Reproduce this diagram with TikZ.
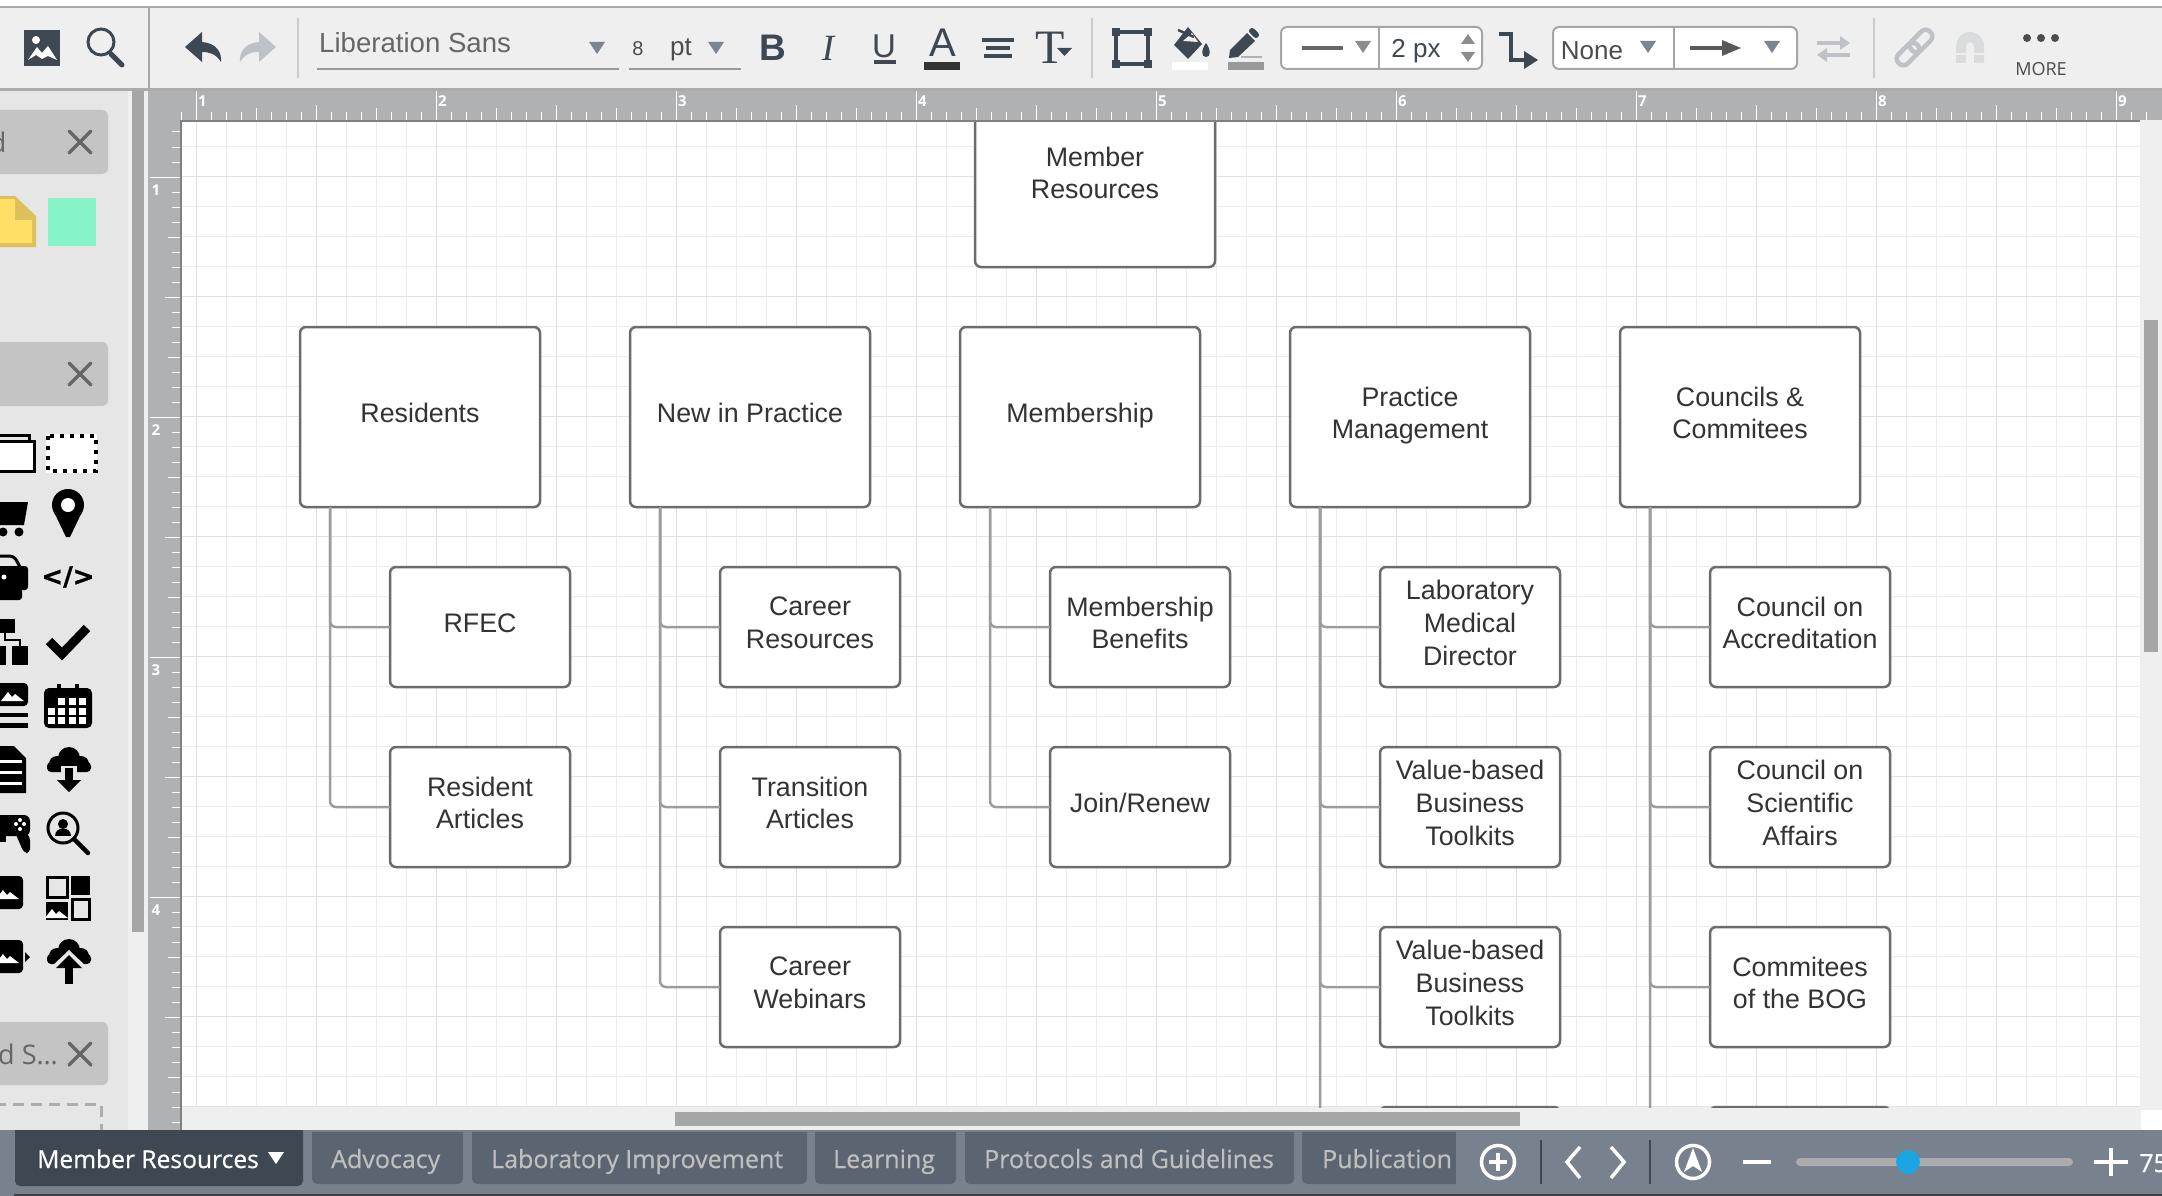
\documentclass[tikz,border=0pt]{standalone}
\usepackage{fontspec}
\setmainfont{Liberation Sans}
\newfontfamily\tabfont[FakeBold=0.5]{Open Sans}
\newfontfamily\plainfont{Open Sans}
\newfontfamily\symfont[FakeBold=1.2]{DejaVu Sans}
\newfontfamily\serfont{Liberation Serif}

\definecolor{barbg}{HTML}{EFEFEF}
\definecolor{panelbg}{HTML}{E6E6E6}
\definecolor{rulerbg}{HTML}{B0B1B3}
\definecolor{slatedark}{HTML}{3E4853}
\definecolor{slatemid}{HTML}{5B6571}
\definecolor{slatebar}{HTML}{78828E}
\definecolor{paleico}{HTML}{BEC2C6}
\definecolor{paleredo}{HTML}{DADBDD}
\definecolor{tritone}{HTML}{7C8591}
\definecolor{boxline}{HTML}{6B6B6B}
\definecolor{linkline}{HTML}{9C9C9C}
\definecolor{gridminor}{HTML}{ECECEC}
\definecolor{gridmajor}{HTML}{E2E2E2}
\definecolor{scrollgray}{HTML}{A6A6A6}
\definecolor{noteedge}{HTML}{DDBF5C}
\definecolor{notefill}{HTML}{FFDF66}
\definecolor{mintfill}{HTML}{86F3C9}
\definecolor{thumbblue}{HTML}{1BA5E3}

\tikzset{
  bigbox/.style={draw=boxline, line width=2.5pt, fill=white, rounded corners=6pt, minimum width=240pt, minimum height=180pt,
    inner sep=0pt, outer sep=0pt, align=center, text=black!80, text depth=8.5pt, font=\fontsize{26.8}{32.6}\selectfont},
  subbox/.style={bigbox, minimum width=180pt, minimum height=120pt},
  link/.style={draw=linkline, line width=2.5pt, rounded corners=6pt},
  tabtext/.style={font=\tabfont\fontsize{25}{30}\selectfont, text=black!25, anchor=base west, inner sep=0pt},
  rulenum/.style={font=\plainfont\bfseries\fontsize{15}{18}\selectfont, text=white, inner sep=0pt},
  toolglyph/.style={text=slatedark, inner sep=0pt},
  fieldbox/.style={draw=black!35, line width=2pt, fill=white, rounded corners=6pt},
  sepline/.style={draw=black!20, line width=1.5pt},
  icoline/.style={draw=slatedark, line width=4pt}
}

\newcommand{\downtri}[3]{\fill[#3] (#1,#2) ++(-8,-6) -- ++(16,0) -- ++(-8,12) -- cycle;}
\newcommand{\mountain}[3]{\fill[#3] (#1,#2) ++(-12,7) -- ++(7,-9) -- ++(4,5) -- ++(3,-3) -- ++(9,7) -- cycle;}
\newcommand{\cloudico}[2]{\fill (#1,#2) circle (11); \fill (#1-12,#2+6) circle (8); \fill (#1+12,#2+6) circle (8); \fill[rounded corners=4pt] (#1-22,#2+4) rectangle (#1+22,#2+14);}

\begin{document}
\begin{tikzpicture}[x=1pt,y=-1pt]
\useasboundingbox (0,0) rectangle (2162,1196);
\clip (0,0) rectangle (2162,1196);

\fill[white] (0,0) rectangle (2162,1196);
\fill[barbg] (0,8) rectangle (2162,88);
\fill[black!33] (0,6) rectangle (2162,8);
\fill[black!33] (0,88) rectangle (2162,91);
\draw[black!35, line width=1.5pt] (149,8) -- (149,88);
\fill[panelbg] (0,91) rectangle (128,1130);
\fill[barbg] (128,91) rectangle (148,1130);
\fill[scrollgray] (132,91) rectangle (144,932);
\fill[rulerbg] (148,91) rectangle (2162,120);
\fill[rulerbg] (148,120) rectangle (181,1130);
\fill[barbg] (181,1107) rectangle (2162,1130);
\fill[barbg] (2140,120) rectangle (2162,1107);
\fill[white] (2141,1110) rectangle (2162,1130);
\fill[scrollgray] (675,1112) rectangle (1520,1126);
\fill[scrollgray] (2144,320) rectangle (2158,652);

\foreach \gx in {196,226,...,2116} \draw[gridminor, line width=1pt] (\gx,122) -- (\gx,1107);
\foreach \gy in {146.7,176.7,...,1090} \draw[gridminor, line width=1pt] (182,\gy) -- (2140,\gy);
\foreach \gx in {196,316,...,2116} \draw[gridmajor, line width=1pt] (\gx,122) -- (\gx,1107);
\foreach \gy in {176.7,296.7,...,1090} \draw[gridmajor, line width=1pt] (182,\gy) -- (2140,\gy);
\draw[gridmajor, line width=1pt] (182,1106.5) -- (2140,1106.5);

\foreach \tx in {181,196,...,2160} \draw[white, line width=1pt] (\tx,112) -- (\tx,120);
\foreach \tx in {196,256,...,2160} \draw[white, line width=1pt] (\tx,108) -- (\tx,120);
\foreach \tx in {196,316,...,2160} \draw[white, line width=1pt] (\tx,105) -- (\tx,120);
\foreach \tx/\tl in {196/1,436/2,676/3,916/4,1156/5,1396/6,1636/7,1876/8,2116/9} {
  \draw[white, line width=1pt] (\tx,91) -- (\tx,120);
  \node[rulenum, anchor=west] (hnum\tl) at (\tx+2,101) {\tl};
}
\foreach \ty in {132,147,...,1130} \draw[white, line width=1pt] (172,\ty) -- (180,\ty);
\foreach \ty in {177,237,...,1130} \draw[white, line width=1pt] (168,\ty) -- (180,\ty);
\foreach \ty in {177,297,...,1130} \draw[white, line width=1pt] (165,\ty) -- (180,\ty);
\foreach \ty/\tl in {177/1,417/2,657/3,897/4} {
  \draw[white, line width=1pt] (150,\ty) -- (180,\ty);
  \node[rulenum] (vnum\tl) at (156,\ty+13) {\tl};
}

\begin{scope}
\clip (182,122) rectangle (2140,1107.6);

\node[bigbox] (memberres) at (1095,177) {Member\\Resources};

\node[bigbox] (residents) at (420,417) {Residents};
\node[bigbox] (newpractice) at (750,417) {New in Practice};
\node[bigbox] (membership) at (1080,417) {Membership};
\node[bigbox] (practice) at (1410,417) {Practice\\Management};
\node[bigbox] (councils) at (1740,417) {Councils \&\\Commitees};

\node[subbox] (rfec) at (480,627) {RFEC};
\node[subbox] (residentart) at (480,807) {Resident\\Articles};

\node[subbox] (careerres) at (810,627) {Career\\Resources};
\node[subbox] (transition) at (810,807) {Transition\\Articles};
\node[subbox] (webinars) at (810,987) {Career\\Webinars};

\node[subbox] (benefits) at (1140,627) {Membership\\Benefits};
\node[subbox] (joinrenew) at (1140,807) {Join/Renew};

\node[subbox] (labdirector) at (1470,627) {Laboratory\\Medical\\Director};
\node[subbox] (valueone) at (1470,807) {Value-based\\Business\\Toolkits};
\node[subbox] (valuetwo) at (1470,987) {Value-based\\Business\\Toolkits};
\node[subbox] (practicenext) at (1470,1167) {};

\node[subbox] (accredit) at (1800,627) {Council on\\Accreditation};
\node[subbox] (scientific) at (1800,807) {Council on\\Scientific\\Affairs};
\node[subbox] (bog) at (1800,987) {Commitees\\of the BOG};
\node[subbox] (councilnext) at (1800,1167) {};

\draw[link] (rfec.west) -| ([xshift=30pt]residents.south west);
\draw[link] (residentart.west) -| ([xshift=30pt]residents.south west);
\draw[link] (careerres.west) -| ([xshift=30pt]newpractice.south west);
\draw[link] (transition.west) -| ([xshift=30pt]newpractice.south west);
\draw[link] (webinars.west) -| ([xshift=30pt]newpractice.south west);
\draw[link] (benefits.west) -| ([xshift=30pt]membership.south west);
\draw[link] (joinrenew.west) -| ([xshift=30pt]membership.south west);
\draw[link] (labdirector.west) -| ([xshift=30pt]practice.south west);
\draw[link] (valueone.west) -| ([xshift=30pt]practice.south west);
\draw[link] (valuetwo.west) -| ([xshift=30pt]practice.south west);
\draw[link] (practicenext.west) -| ([xshift=30pt]practice.south west);
\draw[link] (accredit.west) -| ([xshift=30pt]councils.south west);
\draw[link] (scientific.west) -| ([xshift=30pt]councils.south west);
\draw[link] (bog.west) -| ([xshift=30pt]councils.south west);
\draw[link] (councilnext.west) -| ([xshift=30pt]councils.south west);
\end{scope}

\fill[black!50] (181,120) rectangle (2140,122);
\fill[black!50] (180,120) rectangle (182,1130);

\fill[slatedark] (24,30) rectangle (60,66);
\fill[white] (36,40) circle (4);
\fill[white] (28,60) -- (37,47) -- (42,53) -- (48,46) -- (57,60) -- (48,56) -- (42,59) -- (36,55) -- cycle;
\draw[slatedark, line width=3pt] (101,42) circle (13);
\draw[slatedark, line width=5pt, line cap=round] (111,54) -- (122,65);

\fill[slatedark] (185,47) -- (202,32) -- (202,42) .. controls (216,43) and (222,52) .. (221,62) .. controls (216,54) and (210,52) .. (202,52) -- (202,62) -- cycle;
\fill[paleico] (276,47) -- (259,32) -- (259,42) .. controls (245,43) and (239,52) .. (240,62) .. controls (245,54) and (251,52) .. (259,52) -- (259,62) -- cycle;
\draw[sepline] (298,18) -- (298,78);

\node[anchor=west, inner sep=0pt, text=black!60, font=\fontsize{27.6}{30}\selectfont] (fontname) at (319,43) {Liberation Sans};
\downtri{597}{48}{tritone}
\draw[black!40, line width=2pt] (317,69) -- (619,69);
\node[inner sep=0pt, text=black!70, font=\fontsize{20}{24}\selectfont] (fontsize) at (638,49) {8};
\node[inner sep=0pt, text=black!70, font=\fontsize{26}{30}\selectfont] (fontunit) at (681,50) {pt};
\downtri{716}{48}{tritone}
\draw[black!40, line width=2pt] (629,69) -- (741,69);

\node[toolglyph, font=\bfseries\fontsize{37}{40}\selectfont] (boldico) at (773,48) {B};
\node[toolglyph, font=\serfont\itshape\fontsize{37}{40}\selectfont] (italicico) at (828,48) {I};
\node[toolglyph, font=\fontsize{33}{36}\selectfont] (underico) at (884,46) {U};
\fill[slatedark] (874,60) rectangle (896,64);
\node[toolglyph, font=\fontsize{40}{42}\selectfont] (colorico) at (943,42.5) {A};
\fill[black!80] (924,62) rectangle (960,70);
\fill[slatedark] (982,38) rectangle (1014,42);
\fill[slatedark] (986,46) rectangle (1010,50);
\fill[slatedark] (984,54) rectangle (1012,58);
\node[toolglyph, font=\serfont\fontsize{48}{50}\selectfont] (typeico) at (1050,48) {T};
\fill[slatedark] (1057,48) -- (1072,48) -- (1064.5,56) -- cycle;
\draw[sepline] (1092,18) -- (1092,78);

\draw[slatedark, line width=3.5pt] (1116,32) rectangle (1148,64);
\foreach \cx in {1116,1148} \foreach \cy in {32,64} \fill[slatedark] (\cx-4,\cy-4) rectangle (\cx+4,\cy+4);

\fill[slatedark] (1174,45) -- (1188,27) -- (1202,44) -- (1188,59) -- cycle;
\fill[barbg] (1183,41) -- (1192,33) -- (1198,42) -- cycle;
\draw[slatedark, line width=2.5pt] (1178,30) -- (1194,37);
\fill[slatedark] (1206,43) .. controls (1201,50) and (1201,57) .. (1206,57) .. controls (1211,57) and (1211,50) .. (1206,43) -- cycle;
\fill[white] (1172,62) rectangle (1208,70);

\fill[slatedark] (1229,58) -- (1230,50) -- (1247,33) -- (1255,41) -- (1238,57) -- cycle;
\draw[slatedark, line width=6pt, line cap=round] (1252,31) -- (1256,35);
\draw[black!30, line width=2pt] (1241,57) -- (1262,57);
\fill[black!40] (1228,62) rectangle (1264,70);

\draw[fieldbox] (1281,27) rectangle (1482,69);
\draw[black!35, line width=1.5pt] (1379,27) -- (1379,69);
\draw[black!60, line width=4pt] (1302,48) -- (1343,48);
\downtri{1363}{47}{black!45}
\node[toolglyph, font=\fontsize{26}{30}\selectfont] (widthval) at (1416,51) {2 px};
\fill[black!45] (1468,34) -- (1475,44) -- (1461,44) -- cycle;
\fill[black!45] (1468,62) -- (1475,52) -- (1461,52) -- cycle;

\draw[icoline] (1499,34) -- (1511,34) -- (1511,60) -- (1526,60);
\fill[slatedark] (1524,51) -- (1538,60) -- (1524,69) -- cycle;

\draw[fieldbox] (1553,27) rectangle (1797,69);
\draw[black!35, line width=1.5pt] (1674,27) -- (1674,69);
\node[inner sep=0pt, text=black!70, font=\fontsize{26}{30}\selectfont] (linebegin) at (1592,51) {None};
\downtri{1648}{47}{tritone}
\draw[black!65, line width=3.5pt] (1690,48) -- (1726,48);
\fill[black!65] (1722,40) -- (1741,48) -- (1722,56) -- cycle;
\downtri{1772}{47}{tritone}

\draw[paleico, line width=3.5pt] (1817,43) -- (1842,43);
\fill[paleico] (1840,36) -- (1850,43) -- (1840,50) -- cycle;
\draw[paleico, line width=3.5pt] (1850,55) -- (1825,55);
\fill[paleico] (1827,48) -- (1817,55) -- (1827,62) -- cycle;
\draw[sepline] (1874,18) -- (1874,78);

\begin{scope}[shift={(1921,41)}, rotate=45]
\draw[paleico, line width=4.5pt, rounded corners=6pt] (-13,-6.5) rectangle (13,6.5);
\end{scope}
\begin{scope}[shift={(1908,54)}, rotate=45]
\draw[paleico, line width=4.5pt, rounded corners=6pt] (-13,-6.5) rectangle (13,6.5);
\end{scope}
\fill[paleredo] (1956,63) -- (1956,46) arc[start angle=180, end angle=360, radius=14] -- (1984,63) -- (1974,63) -- (1974,46) arc[start angle=360, end angle=180, radius=4] -- (1966,63) -- cycle;
\fill[barbg] (1954,53) rectangle (1986,55);
\foreach \mx in {2027,2041,2055} \fill[black!70] (\mx,38) circle (4);
\node[inner sep=0pt, text=black!70, font=\plainfont\fontsize{18}{20}\selectfont] (moreword) at (2041,69) {MORE};

\fill[black!15!panelbg, rounded corners=6pt] (-10,110) rectangle (108,174);
\fill[black!15!panelbg, rounded corners=6pt] (-10,342) rectangle (108,406);
\fill[black!15!panelbg, rounded corners=6pt] (-10,1022) rectangle (108,1085);
\node[anchor=east, inner sep=0pt, text=black!60, font=\plainfont\fontsize{27}{30}\selectfont] (panelone) at (6.5,142) {d};
\node[anchor=east, inner sep=0pt, text=black!60, font=\plainfont\fontsize{27}{30}\selectfont] (panelthree) at (58,1054) {d S…};
\foreach \xc/\yc in {80/142,80/374,80/1054}
  \draw[black!60, line width=3.5pt, line cap=round] (\xc-11,\yc-11) -- (\xc+11,\yc+11) (\xc-11,\yc+11) -- (\xc+11,\yc-11);
\draw[black!32, line width=3pt, dash pattern=on 11pt off 7pt] (-5,1104.5) -- (101.5,1104.5) -- (101.5,1135);

\fill[noteedge] (-5,196) -- (15,196) -- (36,216) -- (36,247) -- (-5,247) -- cycle;
\fill[notefill] (-5,199) -- (15,199) -- (15,220) -- (32,220) -- (32,243) -- (-5,243) -- cycle;
\fill[mintfill] (48,198) rectangle (96,246);

\draw[black, line width=3pt] (-5,435) -- (29,435) -- (29,441);
\draw[black, line width=3pt, fill=white] (-5,441) rectangle (34,471);
\fill[white] (46,434) rectangle (97,473);
\draw[black, line width=4pt, dash pattern=on 4pt off 6pt] (48,436) rectangle (96,471);

\fill (68,505) circle (16);
\fill (54,512) -- (82,512) -- (70,537) -- (66,537) -- cycle;
\fill[white] (68,505) circle (7);
\fill (-5,502) -- (28,502) -- (24,525) -- (-5,525) -- cycle;
\fill (3,532) circle (4.5);
\fill (19,532) circle (4.5);
\draw[black, line width=3pt, rounded corners=4pt] (-5,567) -- (-5,556) -- (14,556) -- (20,567);
\fill[rounded corners=3pt] (-8,566) rectangle (28,590);
\fill[rounded corners=3pt] (-8,588) rectangle (22,600);
\fill[white] (4,577) circle (2.5);
\node[inner sep=0pt, font=\symfont\bfseries\fontsize{26}{28}\selectfont] (codeico) at (68,577) {</>};
\draw[black, line width=9pt] (49,641) -- (62,654) -- (87,628);
\fill (0,619) rectangle (15,633);
\draw[black, line width=2.5pt] (5,633) -- (5,640) -- (20,640) -- (20,646);
\fill (12,646) rectangle (28,665);
\fill (-10,646) rectangle (6,665);

\fill[rounded corners=4pt] (-8,683) rectangle (28,706);
\mountain{13}{694}{white}
\fill (-8,713) rectangle (28,717);
\fill (-8,723) rectangle (28,728);

\fill[rounded corners=5pt] (44,688) rectangle (92,728);
\fill (57,684) rectangle (61,692);
\fill (75,684) rectangle (79,692);
\foreach \px in {48,58,69,79} \foreach \py in {708,717} \fill[white] (\px,\py) rectangle +(7,7);
\foreach \px in {58,69,79} \fill[white] (\px,698) rectangle +(7,7);

\fill (-5,746) -- (14,746) -- (26,758) -- (26,793) -- (-5,793) -- cycle;
\foreach \py in {760,771,782} \fill[white] (-5,\py) rectangle (22,\py+3);

\cloudico{69}{758}
\fill[panelbg] (61,766) rectangle (77,785);
\fill (65,768) rectangle (73,782);
\fill (57,780) -- (81,780) -- (69,792) -- cycle;

\fill[rounded corners=6pt] (-8,815) rectangle (30,836);
\fill[rounded corners=4pt] (14,830) -- (22,830) -- (30,836) -- (30,853) -- (24,853) -- cycle;
\fill (-8,830) rectangle (6,842);
\fill[white] (20,820) circle (2);
\fill[white] (20,829) circle (2);
\fill[white] (16,824) circle (2);
\fill[white] (24,824) circle (2);

\draw[black, line width=3pt] (63,828) circle (15);
\draw[black, line width=4.5pt, line cap=round] (74,839) -- (88,853);
\fill (63,824) circle (5);
\fill (55,836) .. controls (55,826) and (71,826) .. (71,836) -- cycle;

\fill[rounded corners=4pt] (-8,876) rectangle (23,909);
\mountain{8}{892}{white}
\draw[black, line width=3pt] (47.5,877.5) rectangle (67,897);
\fill (71,876) rectangle (90,895);
\fill (46,902) rectangle (68,920);
\mountain{57}{911}{white}
\draw[black, line width=3pt] (72.5,899.5) rectangle (89,919);

\fill[rounded corners=4pt] (-8,940) rectangle (23,973);
\mountain{8}{956}{white}
\fill (25,952) -- (30,957) -- (25,962) -- cycle;

\cloudico{69}{950}
\fill[panelbg] (50,968) -- (69,950) -- (88,968) -- cycle;
\fill (56,968) -- (69,955) -- (82,968) -- cycle;
\fill (65,966) rectangle (73,984);

\fill[slatebar] (0,1130) rectangle (2162,1196);
\fill[black!75] (14,1194) rectangle (2162,1196);
\begin{scope}
\clip (0,1132) rectangle (2162,1196);
\fill[slatemid, rounded corners=5pt] (312,1120) rectangle (463,1184);
\fill[slatemid, rounded corners=5pt] (472,1120) rectangle (807,1184);
\fill[slatemid, rounded corners=5pt] (815,1120) rectangle (956,1184);
\fill[slatemid, rounded corners=5pt] (965,1120) rectangle (1294,1184);
\fill[slatemid, rounded corners=5pt] (1302,1120) rectangle (1470,1184);
\end{scope}
\begin{scope}
\clip (0,1130) rectangle (2162,1196);
\fill[slatedark, rounded corners=5pt] (15,1120) rectangle (303,1186);
\end{scope}
\node[tabtext, text=white, font=\tabfont\fontsize{24.6}{30}\selectfont] (tabmember) at (37,1168) {Member Resources};
\fill[white] (268,1152) -- (284,1152) -- (276,1164) -- cycle;
\node[tabtext] (tabadvocacy) at (331,1168) {Advocacy};
\node[tabtext] (tablab) at (491,1168) {Laboratory Improvement};
\node[tabtext] (tablearning) at (833,1168) {Learning};
\node[tabtext] (tabprotocols) at (984,1168) {Protocols and Guidelines};
\node[tabtext] (tabpublication) at (1322,1168) {Publication};

\fill[slatebar] (1456,1130) rectangle (2162,1194);
\draw[white, line width=3.5pt] (1498,1162) circle (16.5);
\draw[white, line width=3.5pt] (1489,1162) -- (1507,1162) (1498,1153) -- (1498,1171);
\draw[slatedark, line width=1.5pt] (1541,1140) -- (1541,1184);
\draw[white, line width=3.5pt] (1580,1147) -- (1567,1162) -- (1580,1178);
\draw[white, line width=3.5pt] (1611,1147) -- (1624,1162) -- (1611,1178);
\draw[slatedark, line width=1.5pt] (1650,1140) -- (1650,1184);
\draw[white, line width=3.5pt] (1693,1162) circle (16.5);
\fill[white] (1693,1148) -- (1702,1172) -- (1693,1166) -- (1684,1172) -- cycle;
\draw[white, line width=4pt] (1743,1162) -- (1771,1162);
\fill[black!33, rounded corners=4pt] (1796,1158) rectangle (2073,1166);
\fill[thumbblue] (1908,1162) circle (12);
\draw[white, line width=3.5pt] (2094,1162) -- (2128,1162) (2111,1148) -- (2111,1176);
\node[tabtext, text=white] (zoomval) at (2139,1172) {75};
\end{tikzpicture}
\end{document}
